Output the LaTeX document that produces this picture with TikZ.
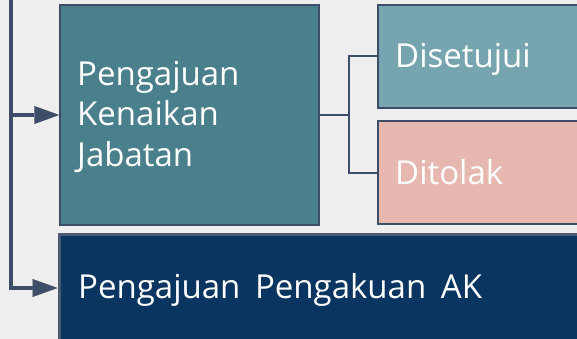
\documentclass[tikz,border=0pt]{standalone}
\usepackage{fontspec}
\setmainfont{Open Sans}[WordSpace=1.7]
\usetikzlibrary{arrows.meta}
\definecolor{bg}{HTML}{EEEEEE}
\definecolor{tealA}{HTML}{4A7F8C}
\definecolor{tealB}{HTML}{76A5AF}
\definecolor{roseA}{HTML}{E6B8AF}
\definecolor{navyA}{HTML}{0B3561}
\definecolor{edgeA}{HTML}{3F4E68}
\definecolor{edgeB}{HTML}{4A5A72}
\begin{document}
\begin{tikzpicture}[x=1pt,y=-1pt,
  box/.style={draw=edgeA,line width=1.5pt,inner sep=0pt},
  lbl/.style={text=white,inner sep=0pt,anchor=base west,font=\fontsize{33}{40.5}\selectfont},
  trunk/.style={draw=edgeA,line width=3.5pt,line join=miter,
    -{Triangle[length=25pt,width=18pt,line width=0.1pt]}},
  fork/.style={draw=edgeA,line width=2pt,line join=miter}]
\useasboundingbox (0,0) rectangle (577,339);
\clip (0,0) rectangle (577,339);
\fill[bg] (0,0) rectangle (577,339);
% boxes
\node[box,fill=tealA,minimum width=259pt,minimum height=220pt] (b1) at (189.5,115) {};
\node[box,fill=tealB,minimum width=222pt,minimum height=103pt] (dis) at (489,56.5) {};
\node[box,fill=roseA,minimum width=222pt,minimum height=103pt] (dit) at (489,172.5) {};
\node[box,draw=edgeB,line width=3pt,fill=navyA,minimum width=542pt,minimum height=108pt] (b3) at (330,288) {};
% labels
\node[lbl,align=left] (t1) at (77,166) {Pengajuan\\Kenaikan\\Jabatan};
\node[lbl] (t2) at (395,68) {Disetujui};
\node[lbl] (t3) at (395,184) {Ditolak};
\node[lbl] (t4) at (78,298) {Pengajuan Pengakuan AK};
% connectors
\coordinate (top) at (11,-5);
\coordinate (fk) at (349,115);
\draw[trunk] (top) |- (b3.west);
\draw[trunk] (top |- b1.west) -- (b1.west);
\draw[fork] (b1.east) -- (fk) |- (dis.west);
\draw[fork] (fk) |- (dit.west);
\end{tikzpicture}
\end{document}
